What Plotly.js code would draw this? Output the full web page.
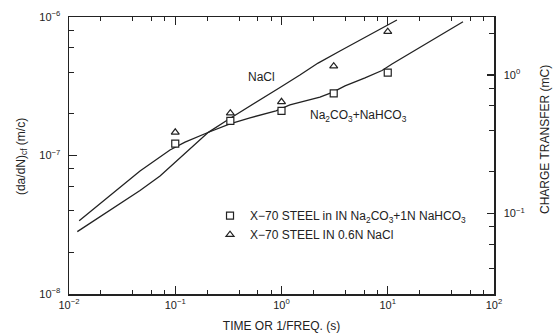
<!DOCTYPE html>
<html>
<head>
<meta charset="utf-8">
<script src="https://cdn.plot.ly/plotly-3.0.1.min.js"></script>
<style>html,body{margin:0;padding:0;background:#fff;}#chart{width:555px;height:333px;}</style>
</head>
<body>
<div id="chart"></div>
<script>
// Fitted curve: X-70 steel in 0.6N NaCl
const timeNaCl = [0.01197, 0.0196, 0.0302, 0.0466, 0.0719, 0.1236, 0.2047, 0.305, 0.407, 0.627, 0.968, 1.49, 2.21, 3.55, 5.48, 8.45, 12.2];
const rateNaCl = [2.82e-8, 3.60e-8, 4.47e-8, 5.59e-8, 7.11e-8, 1.042e-7, 1.47e-7, 1.79e-7, 2.06e-7, 2.52e-7, 3.10e-7, 3.81e-7, 4.65e-7, 5.68e-7, 6.82e-7, 8.19e-7, 9.51e-7];

// Fitted curve: X-70 steel in 1N Na2CO3 + 1N NaHCO3
const timeCarb = [0.01247, 0.01959, 0.0302, 0.0466, 0.0892, 0.1236, 0.203, 0.327, 0.505, 0.887, 1.20, 2.30, 3.05, 3.96, 6.11, 8.83, 10.97, 20.1, 34.6, 51.1];
const rateCarb = [3.38e-8, 4.47e-8, 5.93e-8, 7.73e-8, 1.096e-7, 1.25e-7, 1.466e-7, 1.69e-7, 1.87e-7, 2.10e-7, 2.32e-7, 2.64e-7, 2.87e-7, 3.18e-7, 3.63e-7, 4.11e-7, 4.58e-7, 6.07e-7, 7.79e-7, 9.25e-7];

// Measured points
const expTime = [0.1, 0.33, 1, 3.1, 10];
const expCarb = [1.22e-7, 1.78e-7, 2.10e-7, 2.81e-7, 3.96e-7];
const expNaCl = [1.47e-7, 2.02e-7, 2.44e-7, 4.42e-7, 7.83e-7];

// Tick labels
const xTickVals = [0.01, 0.1, 1, 10, 100];
const xTickText = ['10<sup>−2</sup>', '10<sup>−1</sup>', '10<sup>0</sup>', '10<sup>1</sup>', '10<sup>2</sup>'];
const xMinor = [0.02,0.04,0.06,0.08, 0.2,0.4,0.6,0.8, 2,4,6,8, 20,40,60,80];
const yTickVals = [1e-8, 1e-7, 1e-6];
const yTickText = ['10<sup>−8</sup>', '10<sup>−7</sup>', '10<sup>−6</sup>'];
const yMinor = [2e-8,4e-8,6e-8,8e-8, 2e-7,4e-7,6e-7,8e-7];
const y2TickVals = [0.1, 1];
const y2TickText = ['10<sup>−1</sup>', '10<sup>0</sup>'];
const y2Minor = [0.04, 0.06, 0.08, 0.2, 0.4, 0.6, 0.8, 2];

const ink = '#222';
const fam = 'Liberation Sans, Arial, sans-serif';

const traces = [
  {x: timeNaCl, y: rateNaCl, type: 'scatter', mode: 'lines', line: {color: ink, width: 1.3}, showlegend: false, hoverinfo: 'skip'},
  {x: timeCarb, y: rateCarb, type: 'scatter', mode: 'lines', line: {color: ink, width: 1.3}, showlegend: false, hoverinfo: 'skip'},
  {x: expTime, y: expCarb, type: 'scatter', mode: 'markers', name: 'X−70 STEEL in IN Na<sub>2</sub>CO<sub>3</sub>+1N NaHCO<sub>3</sub>',
   marker: {symbol: 'square', size: 7, color: '#fff', line: {color: ink, width: 1.2}}},
  {x: expTime, y: expNaCl, type: 'scatter', mode: 'markers', name: 'X−70 STEEL IN 0.6N NaCl',
   marker: {symbol: 'triangle-up', size: 7, color: '#fff', line: {color: ink, width: 1.2}}}
];

// Invisible anchor trace so the right-hand axis is drawn
traces.push({x: [1], y: [1], yaxis: 'y2', type: 'scatter', mode: 'markers', marker: {opacity: 0}, showlegend: false, hoverinfo: 'skip'});

const layout = {
  width: 555, height: 333,
  margin: {l: 69, r: 61, t: 17, b: 39},
  paper_bgcolor: '#fff', plot_bgcolor: '#fff',
  font: {family: fam, color: ink, size: 12},
  showlegend: true,
  legend: {x: 0.3318, y: 0.335, xanchor: 'left', yanchor: 'top', bgcolor: 'rgba(0,0,0,0)', font: {size: 12, family: fam, color: ink}, itemwidth: 30},
  xaxis: {
    type: 'log', range: [-2, 2], showgrid: false, zeroline: false,
    showline: true, linecolor: ink, linewidth: 1.5, mirror: 'ticks',
    ticks: 'inside', ticklen: 8, tickwidth: 1.2, tickcolor: ink,
    tickvals: xTickVals, ticktext: xTickText, tickfont: {size: 11, family: fam, color: ink},
    minor: {tickvals: xMinor, ticks: 'inside', ticklen: 4, tickwidth: 1, tickcolor: ink, showgrid: false},
    title: {text: 'TIME OR 1/FREQ. (s)', font: {size: 12, family: fam, color: ink}, standoff: 17}
  },
  yaxis: {
    type: 'log', range: [-8, -6], showgrid: false, zeroline: false,
    showline: true, linecolor: ink, linewidth: 1.5,
    ticks: 'inside', ticklen: 8, tickwidth: 1.2, tickcolor: ink, ticklabelstandoff: 5,
    tickvals: yTickVals, ticktext: yTickText, tickfont: {size: 11, family: fam, color: ink},
    minor: {tickvals: yMinor, ticks: 'inside', ticklen: 5, tickwidth: 1, tickcolor: ink, showgrid: false}
  },
  yaxis2: {
    type: 'log', range: [-1.581, 0.419], overlaying: 'y', side: 'right', anchor: 'x',
    showgrid: false, zeroline: false, showline: true, linecolor: ink, linewidth: 1.5,
    ticks: 'inside', ticklen: 7, tickwidth: 1.2, tickcolor: ink, ticklabelstandoff: 6,
    tickvals: y2TickVals, ticktext: y2TickText, tickfont: {size: 11, family: fam, color: ink},
    minor: {tickvals: y2Minor, ticks: 'inside', ticklen: 5, tickwidth: 1, tickcolor: ink, showgrid: false}
  },
  annotations: [
    {text: 'NaCl', xref: 'paper', yref: 'paper', x: 0.452, y: 0.783, xanchor: 'center', yanchor: 'middle', showarrow: false, font: {size: 12, family: fam, color: ink}},
    {text: 'Na<sub>2</sub>CO<sub>3</sub>+NaHCO<sub>3</sub>', xref: 'paper', yref: 'paper', x: 0.680, y: 0.643, xanchor: 'center', yanchor: 'middle', showarrow: false, font: {size: 12, family: fam, color: ink}},
    {text: '(da/dN)<sub>cf</sub> (m/c)', xref: 'paper', yref: 'paper', x: -0.1106, y: 0.498, xanchor: 'center', yanchor: 'middle', textangle: -90, showarrow: false, font: {size: 12, family: fam, color: ink}},
    {text: 'CHARGE TRANSFER (mC)', xref: 'paper', yref: 'paper', x: 1.12, y: 0.556, xanchor: 'center', yanchor: 'middle', textangle: -90, showarrow: false, font: {size: 12, family: fam, color: ink}}
  ]
};

Plotly.newPlot('chart', traces, layout, {staticPlot: true, displayModeBar: false});
</script>
</body>
</html>
